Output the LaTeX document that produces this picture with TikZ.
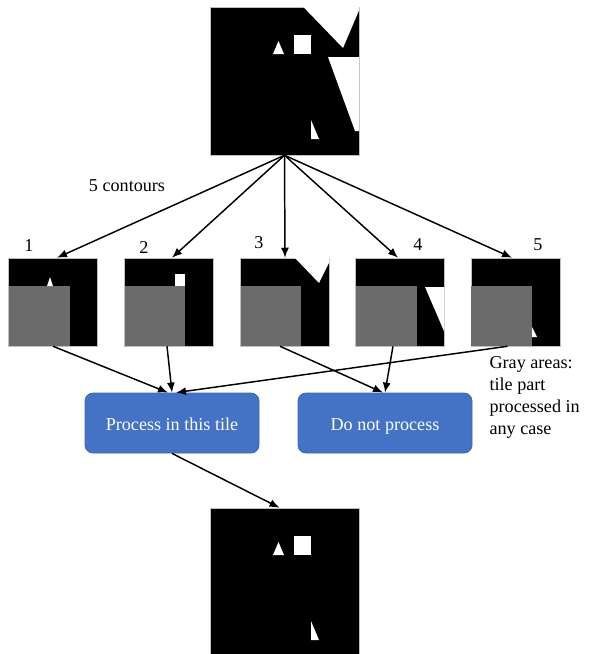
\documentclass[tikz,border=0pt]{standalone}
\usepackage{fontspec}
\setmainfont{Liberation Serif}
\usetikzlibrary{arrows.meta,calc}
\definecolor{tilegray}{RGB}{107,107,107}
\definecolor{boxblue}{RGB}{68,114,196}
\definecolor{boxedge}{RGB}{62,104,180}
\definecolor{framegray}{RGB}{190,190,190}
\newcommand\labfont{\fontsize{13.6}{16.5}\selectfont}
\begin{document}
\begin{tikzpicture}[x=0.75pt,y=-0.75pt,
  img/.style={fill=black, draw=framegray, line width=0.4pt, inner sep=0pt, minimum width=111.75pt, minimum height=111pt},
  tile/.style={fill=black, draw=framegray, line width=0.4pt, inner sep=0pt, minimum width=66.75pt, minimum height=66pt},
  procbox/.style={rounded corners=6pt, fill=boxblue, draw=boxedge, line width=0.6pt, text=white, minimum width=130.5pt, minimum height=45pt, inner sep=0pt, text height=11pt, text depth=0pt, font=\labfont},
  lbl/.style={font=\labfont, inner sep=1pt},
  arr/.style={-{Latex[length=7.5pt,width=6pt]}, line width=1.1pt}]
\useasboundingbox (0,0) rectangle (593,654);

% top image
\node[img] (top) at (284.5,81) {};
\fill[white] (303,6.6) -- (343,48) -- (359.2,10) -- (359.2,6.6) -- cycle;
\fill[white] (273,54) -- (284,54) -- (278.5,41) -- cycle;
\fill[white] (294,35) rectangle (311,54);
\fill[white] (328,57) -- (359.2,57) -- (359.2,131) -- (355,131) -- cycle;
\fill[white] (311,120) -- (319,139) -- (311,139) -- cycle;

% tiles
\node[tile] (t1) at (53,302) {};
\node[tile] (t2) at (169,302) {};
\node[tile] (t3) at (285,302) {};
\node[tile] (t4) at (400,302) {};
\node[tile] (t5) at (515.5,302) {};

\fill[tilegray] (8.5,286) rectangle (70,346);
\fill[white] (47,286) -- (53,286) -- (50,277) -- cycle;

\fill[tilegray] (124.5,286) rectangle (185,346);
\fill[white] (175,274) rectangle (185,286);

\fill[tilegray] (240.5,286) rectangle (301,346);
\fill[white] (295,258) -- (329.4,258) -- (329.4,262) -- (319,283) -- cycle;

\fill[tilegray] (355.5,286) rectangle (417,346);
\fill[white] (425,287) -- (444.4,287) -- (444.4,332) -- cycle;

\fill[white] (532,327) -- (537,337) -- (532,337) -- cycle;
\fill[tilegray] (471,286) rectangle (532,346);

% labels
\node[lbl] (c5) at (127,186) {5 contours};
\node[lbl] (n1) at (29,246) {1};
\node[lbl] (n2) at (144,247) {2};
\node[lbl] (n3) at (259,243) {3};
\node[lbl] (n4) at (418,245) {4};
\node[lbl] (n5) at (538,245) {5};
\node[lbl, align=left, anchor=west] (note) at (488,397) {Gray areas:\\tile part\\processed in\\any case};

% process boxes
\node[procbox] (b1) at (172,423) {Process in this tile};
\node[procbox] (b2) at (385,423) {Do not process};

% bottom image
\node[img] (bot) at (284.5,582) {};
\fill[white] (273,555) -- (284,555) -- (278.5,542) -- cycle;
\fill[white] (294,536) rectangle (311,555);
\fill[white] (311,621) -- (319,640) -- (311,640) -- cycle;

% arrows from top image
\draw[arr] (top.south) -- ($(t1.north)+(4,0)$);
\draw[arr] (top.south) -- ($(t2.north)+(3,0)$);
\draw[arr] (top.south) -- (t3.north);
\draw[arr] (top.south) -- ($(t4.north)+(-2,0)$);
\draw[arr] (top.south) -- ($(t5.north)+(-3.5,0)$);

% arrows to boxes
\draw[arr] (t1.south) -- ($(b1.north)+(-4,0)$);
\draw[arr] ($(t2.south)+(-2,0)$) -- (b1.north);
\draw[arr] ($(t5.south)+(-8,0)$) -- ($(b1.north)+(4,0)$);
\draw[arr] ($(t3.south)+(-5,0)$) -- ($(b2.north)+(-2,0)$);
\draw[arr] ($(t4.south)+(-7,0)$) -- (b2.north);

% arrow to bottom image
\draw[arr] (b1.south) -- ($(bot.north)+(-5,0)$);
\end{tikzpicture}
\end{document}
